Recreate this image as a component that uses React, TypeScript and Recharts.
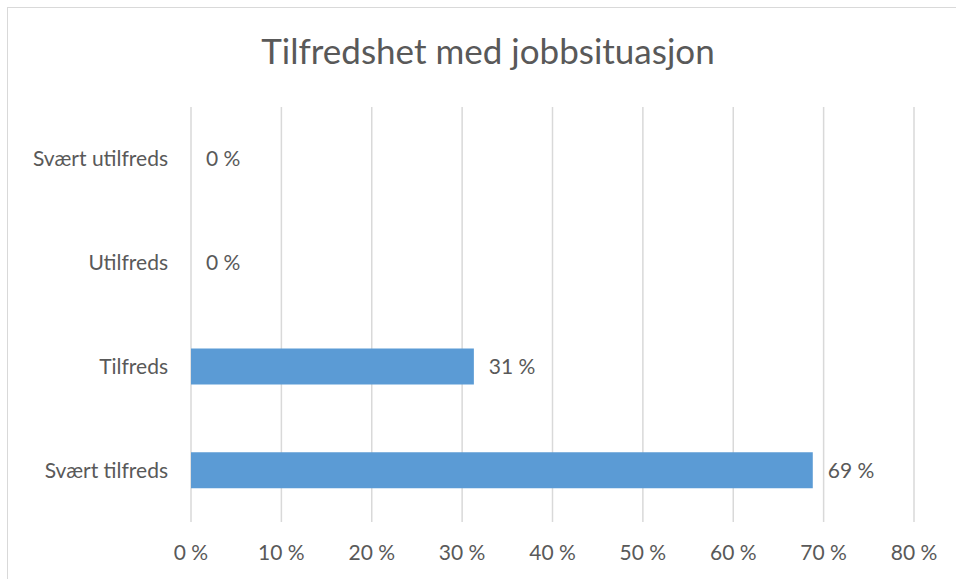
import React from 'react'
import { BarChart, Bar, XAxis, YAxis, CartesianGrid, LabelList } from 'recharts';

const categories: string[] = ['Svært utilfreds', 'Utilfreds', 'Tilfreds', 'Svært tilfreds'];
const shares: number[] = [0, 0, 31.3, 68.8];
const xTicks: number[] = [0, 10, 20, 30, 40, 50, 60, 70, 80];

const data = categories.map((name, i) => ({ name, value: shares[i] }));

const textColor = '#595959';
const font = 'Lato, "Open Sans", sans-serif';

const pct = (v: number) => `${Math.round(v)} %`;

const App: React.FC = () => {
    return (
        <div style={{ position: 'absolute', left: 0, top: 0, width: 956, height: 579, background: '#fff', fontFamily: font }}>
            <div style={{ position: 'absolute', left: 7, top: 7, width: 980, height: 600, border: '1px solid #D9D9D9', boxSizing: 'border-box' }} />
            <div style={{ position: 'absolute', left: 0, top: 0 }}>
                <BarChart width={956} height={579} data={data} layout="vertical"
                    margin={{
                        top: 107,
                        right: 42,
                        left: 0,
                        bottom: 17,
                    }}
                >
                    <text x={488} y={64} textAnchor="middle" fill={textColor} fontSize={35} fontFamily={font}>
                        Tilfredshet med jobbsituasjon
                    </text>
                    <CartesianGrid horizontal={false} stroke="#D9D9D9" strokeWidth={1.5} />
                    <XAxis type="number" domain={[0, 80]} ticks={xTicks} tickFormatter={pct}
                        axisLine={false} tickLine={false} tickSize={0} tickMargin={23} height={40}
                        tick={{ fill: textColor, fontSize: 21, fontFamily: font }} interval={0} />
                    <YAxis type="category" dataKey="name" width={191}
                        axisLine={false} tickLine={false} tickSize={0} tickMargin={23}
                        tick={{ fill: textColor, fontSize: 21, fontFamily: font }} />
                    <Bar dataKey="value" fill="#5B9BD5" barSize={36} minPointSize={0.001} isAnimationActive={false}>
                        <LabelList dataKey="value" position="right" offset={15} formatter={(v: any) => pct(Number(v))}
                            fill={textColor} fontSize={21} fontFamily={font} />
                    </Bar>
                </BarChart>
            </div>
        </div>
    )
}

export default App
